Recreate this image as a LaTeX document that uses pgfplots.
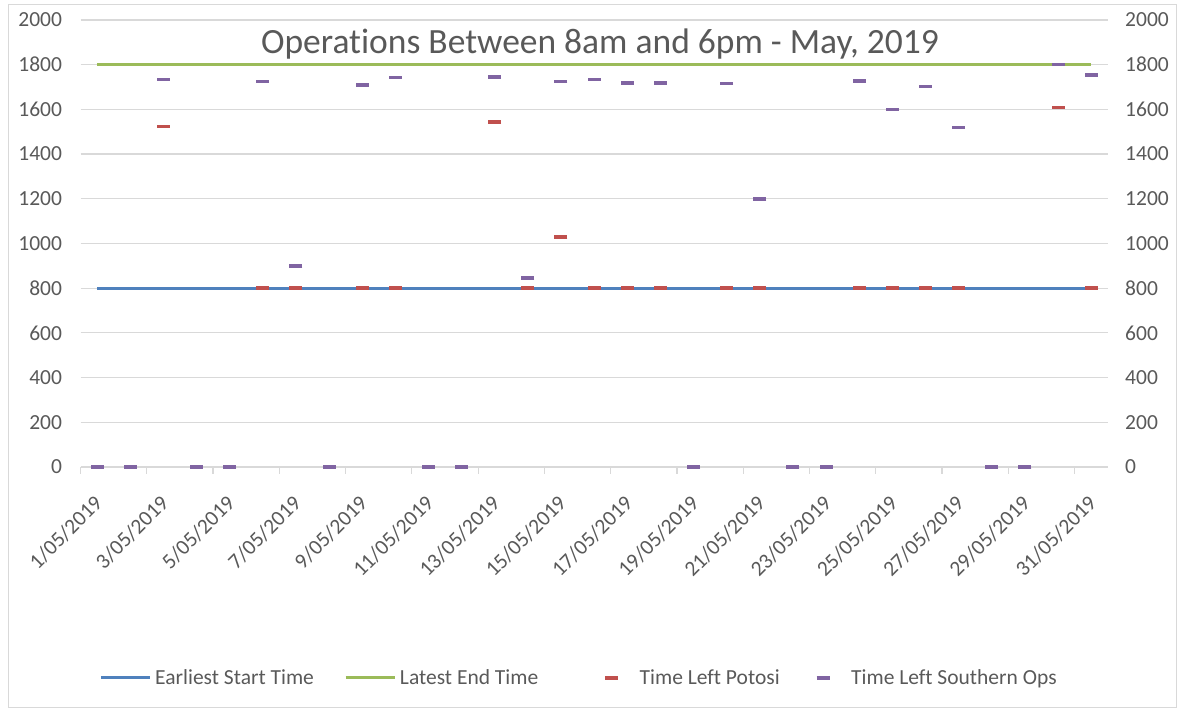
\documentclass[border=0pt]{standalone}
\usepackage{fontspec}
\setmainfont{Carlito}[Ligatures=NoCommon]
\usepackage{pgfplots}
\usepackage{pgfplotstable}
\pgfplotsset{compat=1.18}
\definecolor{gridgray}{HTML}{D9D9D9}
\definecolor{txtgray}{HTML}{595959}
\definecolor{c1}{HTML}{4F81BD}
\definecolor{c2}{HTML}{9BBB59}
\definecolor{c3}{HTML}{C0504D}
\definecolor{c4}{HTML}{8064A2}

\pgfplotstableread{
day start end potosi southern
1 800 1800 0 0
2 800 1800 0 0
3 800 1800 1523 1733
4 800 1800 0 0
5 800 1800 0 0
6 800 1800 800 1724
7 800 1800 800 900
8 800 1800 0 0
9 800 1800 800 1709
10 800 1800 800 1742
11 800 1800 0 0
12 800 1800 0 0
13 800 1800 1543 1746
14 800 1800 800 845
15 800 1800 1029 1724
16 800 1800 800 1733
17 800 1800 800 1718
18 800 1800 800 1718
19 800 1800 0 0
20 800 1800 800 1715
21 800 1800 800 1200
22 800 1800 0 0
23 800 1800 0 0
24 800 1800 800 1727
25 800 1800 800 1600
26 800 1800 800 1703
27 800 1800 800 1519
28 800 1800 0 0
29 800 1800 0 0
30 800 1800 1608 1800
31 800 1800 800 1754
}\datatable

\newcommand{\smallfont}{\fontsize{21.5bp}{26bp}\selectfont}

\begin{document}
\begin{tikzpicture}[x=1bp,y=1bp]
\path[use as bounding box] (0,0) rectangle (1178,711);
\draw[gridgray, line width=1bp] (8.5,3.5) rectangle (1176.5,706);
\begin{axis}[
  at={(80.5bp,244bp)}, anchor=south west,
  scale only axis, width=1027.2bp, height=447bp,
  xmin=0.5, xmax=31.5, ymin=0, ymax=2000,
  axis line style={draw=none},
  ymajorgrids, grid style={gridgray, line width=1.2bp},
  major tick length=0pt, tick align=outside,
  xtick pos=bottom, ytick pos=left,
  xtick={1,3,...,31},
  xticklabels={1/05/2019,3/05/2019,5/05/2019,7/05/2019,9/05/2019,11/05/2019,13/05/2019,15/05/2019,17/05/2019,19/05/2019,21/05/2019,23/05/2019,25/05/2019,27/05/2019,29/05/2019,31/05/2019},
  xticklabel style={xshift=4bp, yshift=-30bp, rotate=45, anchor=east, text=txtgray, font=\smallfont},
  extra x ticks={0.5,2.5,...,30.5},
  extra x tick labels={},
  extra x tick style={major tick length=7bp, grid=none, tick style={draw=gridgray, line width=1.2bp}},
  ytick={0,200,...,2000},
  yticklabel style={text=txtgray, font=\smallfont, xshift=-15bp},
  /pgf/number format/assume math mode=true,
  /pgf/number format/set thousands separator={},
  legend columns=4,
  legend style={at={(0.0183,-0.4716)}, anchor=west, draw=none, fill=none,
    inner sep=0pt, font=\smallfont, text=txtgray, nodes={inner sep=0pt},
    /tikz/every odd column/.style={column sep=4bp},
    /tikz/every even column/.style={column sep=0pt}},
]
\addplot[c1, line width=2.75bp, no markers,
  legend image code/.code={\draw[c1, line width=2.75bp] (0bp,0bp) -- (49bp,0bp);}]
  table[x=day, y=start]{\datatable};
\addlegendentry{\makebox[189bp][l]{Earliest Start Time}}
\addplot[c2, line width=2.75bp, no markers,
  legend image code/.code={\draw[c2, line width=2.75bp] (0bp,0bp) -- (49bp,0bp);}]
  table[x=day, y=end]{\datatable};
\addlegendentry{\makebox[187.7bp][l]{Latest End Time}}
\addplot[only marks, mark=-, mark size=6.5bp, mark options={draw=c3, line width=3.5bp},
  legend image code/.code={\path[draw=none] (0bp,0bp) -- (48bp,0bp); \draw[c3, line width=3.5bp] (17.5bp,0bp) -- (30.5bp,0bp);}]
  table[x=day, y=potosi]{\datatable};
\addlegendentry{\makebox[159.5bp][l]{Time Left Potosi}}
\addplot[only marks, mark=-, mark size=6.5bp, mark options={draw=c4, line width=3.5bp},
  legend image code/.code={\path[draw=none] (0bp,0bp) -- (48bp,0bp); \draw[c4, line width=3.5bp] (17.5bp,0bp) -- (30.5bp,0bp);}]
  table[x=day, y=southern]{\datatable};
\addlegendentry{Time Left Southern Ops}
\end{axis}
\begin{axis}[
  at={(80.5bp,244bp)}, anchor=south west,
  scale only axis, width=1027.2bp, height=447bp,
  xmin=0.5, xmax=31.5, ymin=0, ymax=2000,
  axis line style={draw=none}, hide x axis,
  major tick length=0pt,
  ytick pos=right, yticklabel pos=right,
  ytick={0,200,...,2000},
  yticklabel style={text=txtgray, font=\smallfont, xshift=14bp},
  /pgf/number format/assume math mode=true,
  /pgf/number format/set thousands separator={},
]
\addplot[draw=none, forget plot] coordinates {(1,0) (2,0)};
\end{axis}
\node[anchor=base, text=txtgray, font=\fontsize{35.5bp}{42bp}\selectfont] at (600,657.7) {Operations Between 8am and 6pm - May, 2019};
\end{tikzpicture}
\end{document}
